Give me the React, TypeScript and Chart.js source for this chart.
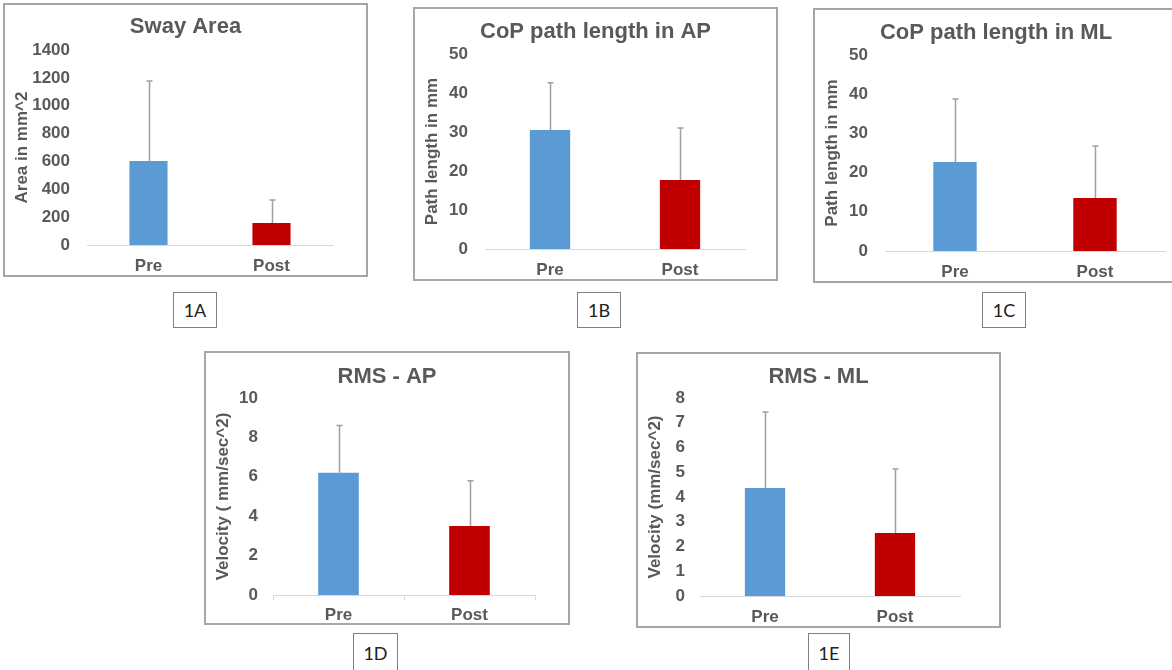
import React, { useEffect, useRef } from "react";
import { Chart, registerables } from "chart.js";
Chart.register(...registerables);

// ---------- data ----------
const categories = ["Pre", "Post"];

const swayAreaMean = [603, 158];
const swayAreaSD = [574, 165];

const pathAPMean = [30.5, 17.7];
const pathAPSD = [12.1, 13.3];

const pathMLMean = [22.7, 13.5];
const pathMLSD = [16.1, 13.3];

const rmsAPMean = [6.2, 3.5];
const rmsAPSD = [2.4, 2.3];

const rmsMLMean = [4.36, 2.55];
const rmsMLSD = [3.07, 2.58];

const chartTitles = ["Sway Area", "CoP path length in AP", "CoP path length in ML", "RMS - AP", "RMS - ML"];
const yAxisTitles = ["Area in mm^2", "Path length in mm", "Path length in mm", "Velocity ( mm/sec^2)", "Velocity (mm/sec^2)"];
const yMaxValues = [1400, 50, 50, 10, 8];
const yStepValues = [200, 10, 10, 2, 1];
const panelLabels = ["1A", "1B", "1C", "1D", "1E"];

// ---------- styles / layout ----------
const BAR_COLORS = ["#5B9BD5", "#C00000"];
const TEXT = "#595959";
const FONT = "'Liberation Sans', Arial, sans-serif";
const BORDER = 2;

type Layout = {
  box: { x: number; y: number; w: number; h: number };
  area: { left: number; right: number; top: number; bottom: number };
  titleY: number;
  yTitleX: number;
  tickRight: number;
  xLabelY: number;
  xTicks: boolean;
  label: { x: number; y: number; w: number; h: number };
};

const layouts: Layout[] = [
  { box: { x: 3, y: 3, w: 365, h: 274 }, area: { left: 87, right: 333, top: 50, bottom: 245 }, titleY: 27, yTitleX: 22, tickRight: 70, xLabelY: 266, xTicks: false, label: { x: 173, y: 292, w: 44, h: 36 } },
  { box: { x: 413, y: 7, w: 365, h: 274 }, area: { left: 485, right: 745, top: 54, bottom: 249 }, titleY: 32, yTitleX: 432, tickRight: 468, xLabelY: 270, xTicks: false, label: { x: 577, y: 292, w: 44, h: 36 } },
  { box: { x: 813, y: 8, w: 366, h: 275 }, area: { left: 885, right: 1165, top: 55, bottom: 251 }, titleY: 33, yTitleX: 832, tickRight: 868, xLabelY: 272, xTicks: false, label: { x: 982, y: 292, w: 44, h: 36 } },
  { box: { x: 204, y: 351, w: 366, h: 274 }, area: { left: 273, right: 535, top: 398, bottom: 595 }, titleY: 377, yTitleX: 223, tickRight: 258, xLabelY: 615, xTicks: true, label: { x: 353, y: 633, w: 45, h: 45 } },
  { box: { x: 636, y: 352, w: 365, h: 276 }, area: { left: 700, right: 960, top: 398, bottom: 596 }, titleY: 377, yTitleX: 655, tickRight: 685, xLabelY: 617, xTicks: false, label: { x: 808, y: 633, w: 42, h: 45 } },
];

const means = [swayAreaMean, pathAPMean, pathMLMean, rmsAPMean, rmsMLMean];
const sds = [swayAreaSD, pathAPSD, pathMLSD, rmsAPSD, rmsMLSD];

const errorBarPlugin = {
  id: "errorBars",
  afterDatasetsDraw(chart: any, _args: any, opts: any) {
    const meta = chart.getDatasetMeta(0);
    const vals = chart.data.datasets[0].data as number[];
    const y = chart.scales.y;
    const ctx = chart.ctx;
    ctx.save();
    ctx.strokeStyle = opts.color;
    ctx.lineWidth = opts.width;
    meta.data.forEach((bar: any, i: number) => {
      const top = y.getPixelForValue(vals[i] + opts.sd[i]);
      const x = Math.round(bar.x) + 0.5;
      ctx.beginPath();
      ctx.moveTo(x, bar.y);
      ctx.lineTo(x, top);
      ctx.moveTo(x - opts.cap, top);
      ctx.lineTo(x + opts.cap, top);
      ctx.stroke();
    });
    ctx.restore();
  },
};

function Panel({ idx }: { idx: number }) {
  const ref = useRef<HTMLCanvasElement>(null);
  const p = layouts[idx];
  const cx = p.box.x + BORDER;
  const cy = p.box.y + BORDER;
  const cw = p.box.w - 2 * BORDER;
  const ch = p.box.h - 2 * BORDER;

  useEffect(() => {
    if (!ref.current) return;
    const titleSize = 22;
    const titleLH = titleSize * 1.2;
    const tickSize = 17;
    const tickLH = tickSize * 1.2;
    const yw = p.area.left - cx;
    const rightW = cw - (p.area.right - cx);
    const xh = ch - (p.area.bottom - cy);
    const tickLen = p.xTicks ? 5 : 0;
    const chart = new Chart(ref.current, {
      type: "bar",
      data: {
        labels: categories,
        datasets: [
          {
            data: means[idx],
            backgroundColor: BAR_COLORS,
            borderWidth: 0,
            barPercentage: 0.31,
            categoryPercentage: 1,
          },
        ],
      },
      plugins: [errorBarPlugin as any],
      options: {
        responsive: false,
        animation: false,
        devicePixelRatio: 1,
        layout: { padding: 0 },
        plugins: {
          legend: { display: false },
          tooltip: { enabled: false },
          title: {
            display: true,
            text: chartTitles[idx],
            color: TEXT,
            font: { family: FONT, size: titleSize, weight: "bold" },
            padding: {
              top: p.titleY - cy - titleLH / 2,
              bottom: p.area.top - p.titleY - titleLH / 2,
            },
          },
          errorBars: { sd: sds[idx], color: "#a0a0a0", width: 1.5, cap: 3 },
        } as any,
        scales: {
          x: {
            grid: {
              display: p.xTicks,
              drawOnChartArea: false,
              drawTicks: p.xTicks,
              tickLength: tickLen,
              color: "#d9d9d9",
              offset: true,
            },
            border: { display: true, color: "#d9d9d9", width: 1 },
            ticks: {
              color: TEXT,
              font: { family: FONT, size: tickSize, weight: "bold" },
              padding: p.xLabelY - p.area.bottom - tickLH / 2 - tickLen,
            },
            afterFit: (s: any) => {
              s.height = xh;
            },
          },
          y: {
            min: 0,
            max: yMaxValues[idx],
            ticks: {
              stepSize: yStepValues[idx],
              autoSkip: false,
              color: TEXT,
              font: { family: FONT, size: tickSize, weight: "bold" },
              padding: p.area.left - p.tickRight,
              callback: (v: any) => String(v),
            },
            grid: { display: false, drawTicks: false },
            border: { display: false },
            title: {
              display: true,
              text: yAxisTitles[idx],
              color: TEXT,
              font: { family: FONT, size: tickSize, weight: "bold" },
              padding: { top: p.yTitleX - cx - tickLH / 2, bottom: 0 },
            },
            afterFit: (s: any) => {
              s.width = yw;
            },
          },
          yRightSpace: {
            position: "right",
            display: true,
            min: 0,
            max: 1,
            ticks: { display: false },
            grid: { display: false, drawTicks: false },
            border: { display: false },
            afterFit: (s: any) => {
              s.width = rightW;
            },
          },
        },
      } as any,
    });
    return () => chart.destroy();
  }, []);

  return (
    <>
      <div
        style={{
          position: "absolute",
          left: p.box.x,
          top: p.box.y,
          width: cw,
          height: ch,
          border: `${BORDER}px solid #a6a6a6`,
          background: "#fff",
        }}
      >
        <canvas ref={ref} width={cw} height={ch} style={{ display: "block", width: cw, height: ch }} />
      </div>
      <div
        style={{
          position: "absolute",
          left: p.label.x,
          top: p.label.y,
          width: p.label.w,
          height: p.label.h,
          border: "1px solid #7f7f7f",
          background: "#fff",
          fontFamily: "Lato, 'Open Sans', sans-serif",
          fontSize: 18,
          color: "#222",
          display: "flex",
          justifyContent: "center",
          alignItems: idx < 3 ? "center" : "flex-start",
          boxSizing: "border-box",
        }}
      >
        <span style={{ marginTop: idx < 3 ? 0 : 8 }}>{panelLabels[idx]}</span>
      </div>
    </>
  );
}

export default function App() {
  return (
    <div
      style={{
        position: "fixed",
        left: 0,
        top: 0,
        width: 1172,
        height: 670,
        background: "#fff",
        overflow: "hidden",
      }}
    >
      {layouts.map((_, i) => (
        <Panel key={i} idx={i} />
      ))}
    </div>
  );
}
